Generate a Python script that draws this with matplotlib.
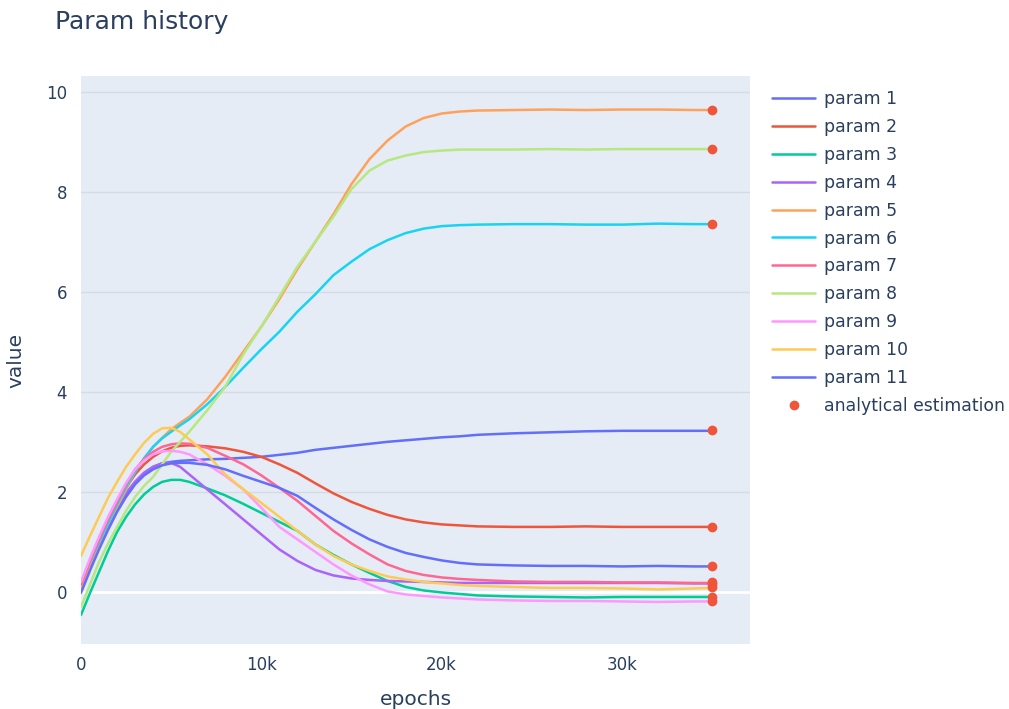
"""
Param history — 학습 중 파라미터 값 추이와 해석적 추정값 비교 차트
"""

import matplotlib
matplotlib.use("Agg")
import matplotlib.pyplot as plt
from matplotlib.ticker import FuncFormatter

# ── 데이터 ──────────────────────────────────────────────────────────────────
EPOCHS = [0, 500, 1000, 1500, 2000, 2500, 3000, 3500, 4000, 4500, 5000, 5500,
          6000, 7000, 8000, 9000, 10000, 11000, 12000, 13000, 14000, 15000,
          16000, 17000, 18000, 19000, 20000, 21000, 22000, 24000, 26000,
          28000, 30000, 32000, 34000, 35000]

PARAM_1 = [0.10, 0.55, 0.95, 1.32, 1.65, 1.95, 2.20, 2.38, 2.50, 2.57, 2.60,
           2.62, 2.63, 2.65, 2.66, 2.68, 2.70, 2.74, 2.78, 2.84, 2.88, 2.92,
           2.96, 3.00, 3.03, 3.06, 3.09, 3.11, 3.14, 3.17, 3.19, 3.21, 3.22,
           3.22, 3.22, 3.22]
PARAM_2 = [0.10, 0.57, 1.00, 1.40, 1.75, 2.08, 2.35, 2.55, 2.70, 2.81, 2.88,
           2.92, 2.93, 2.91, 2.87, 2.80, 2.70, 2.55, 2.38, 2.17, 1.97, 1.80,
           1.66, 1.54, 1.45, 1.39, 1.35, 1.33, 1.31, 1.30, 1.30, 1.31, 1.30,
           1.30, 1.30, 1.30]
PARAM_3 = [-0.46, -0.02, 0.40, 0.82, 1.20, 1.50, 1.75, 1.95, 2.10, 2.20, 2.24,
           2.24, 2.20, 2.07, 1.93, 1.76, 1.58, 1.40, 1.22, 0.95, 0.74, 0.55,
           0.38, 0.22, 0.10, 0.03, -0.01, -0.04, -0.07, -0.09, -0.10, -0.11,
           -0.10, -0.10, -0.10, -0.10]
PARAM_4 = [0.08, 0.53, 0.95, 1.35, 1.70, 1.98, 2.20, 2.38, 2.50, 2.57, 2.58,
           2.50, 2.35, 2.05, 1.75, 1.45, 1.15, 0.85, 0.62, 0.44, 0.33, 0.27,
           0.24, 0.22, 0.21, 0.20, 0.19, 0.18, 0.18, 0.18, 0.18, 0.18, 0.18,
           0.18, 0.17, 0.17]
PARAM_5 = [0.10, 0.53, 0.95, 1.35, 1.70, 2.05, 2.40, 2.67, 2.90, 3.08, 3.25,
           3.38, 3.50, 3.85, 4.30, 4.80, 5.30, 5.85, 6.45, 7.00, 7.55, 8.15,
           8.65, 9.02, 9.30, 9.47, 9.56, 9.60, 9.62, 9.63, 9.64, 9.63, 9.64,
           9.64, 9.63, 9.63]
PARAM_6 = [0.18, 0.60, 1.00, 1.38, 1.75, 2.10, 2.40, 2.67, 2.90, 3.07, 3.20,
           3.33, 3.45, 3.75, 4.10, 4.48, 4.85, 5.20, 5.60, 5.95, 6.33, 6.60,
           6.85, 7.03, 7.17, 7.26, 7.31, 7.33, 7.34, 7.35, 7.35, 7.34, 7.34,
           7.36, 7.35, 7.35]
PARAM_7 = [0.15, 0.62, 1.05, 1.45, 1.80, 2.15, 2.45, 2.65, 2.80, 2.90, 2.95,
           2.97, 2.96, 2.88, 2.72, 2.55, 2.33, 2.08, 1.82, 1.52, 1.22, 0.97,
           0.75, 0.55, 0.42, 0.34, 0.29, 0.26, 0.24, 0.21, 0.20, 0.20, 0.19,
           0.19, 0.18, 0.18]
PARAM_8 = [-0.30, 0.15, 0.60, 0.97, 1.30, 1.62, 1.90, 2.12, 2.30, 2.55, 2.80,
           3.00, 3.20, 3.63, 4.10, 4.75, 5.30, 5.90, 6.50, 7.00, 7.50, 8.05,
           8.42, 8.62, 8.72, 8.79, 8.82, 8.84, 8.84, 8.84, 8.85, 8.84, 8.85,
           8.85, 8.85, 8.85]
PARAM_9 = [0.20, 0.67, 1.10, 1.50, 1.85, 2.18, 2.45, 2.63, 2.75, 2.81, 2.82,
           2.80, 2.75, 2.55, 2.32, 2.05, 1.68, 1.30, 1.05, 0.80, 0.55, 0.33,
           0.15, 0.01, -0.05, -0.08, -0.11, -0.13, -0.15, -0.17, -0.18, -0.18,
           -0.19, -0.20, -0.19, -0.19]
PARAM_10 = [0.72, 1.12, 1.50, 1.88, 2.20, 2.50, 2.75, 2.98, 3.16, 3.27, 3.28,
            3.20, 3.05, 2.75, 2.35, 2.05, 1.78, 1.50, 1.22, 0.95, 0.72, 0.55,
            0.42, 0.31, 0.25, 0.20, 0.17, 0.14, 0.12, 0.10, 0.08, 0.08, 0.07,
            0.05, 0.07, 0.08]
PARAM_11 = [-0.02, 0.43, 0.85, 1.24, 1.60, 1.90, 2.15, 2.33, 2.45, 2.53, 2.57,
            2.58, 2.58, 2.54, 2.45, 2.32, 2.20, 2.08, 1.92, 1.68, 1.45, 1.24,
            1.05, 0.90, 0.78, 0.70, 0.63, 0.58, 0.55, 0.53, 0.52, 0.52, 0.51,
            0.52, 0.51, 0.51]

SERIES = [PARAM_1, PARAM_2, PARAM_3, PARAM_4, PARAM_5, PARAM_6,
          PARAM_7, PARAM_8, PARAM_9, PARAM_10, PARAM_11]
LABELS = [f"param {i}" for i in range(1, 12)]

# 해석적 추정값 (param 1 ~ 11, 마지막 epoch 위치에 표시)
EST_EPOCH = 35000
ESTIMATES = [3.23, 1.30, -0.10, 0.20, 9.63, 7.35, 0.15, 8.85, -0.19, 0.09, 0.52]

# ── 색상 (plotly 기본 팔레트) ─────────────────────────────────────────────────
COLORWAY = ["#636EFA", "#EF553B", "#00CC96", "#AB63FA", "#FFA15A",
            "#19D3F3", "#FF6692", "#B6E880", "#FF97FF", "#FECB52"]
PLOT_BG = "#E5ECF6"
GRID_COLOR = "#D6DBE3"
TEXT_COLOR = "#2A3F5F"

W, H = 1009, 709
fig = plt.figure(figsize=(W / 100, H / 100), dpi=100, facecolor="white")

# 플롯 영역 (픽셀 기준 → figure 비율)
left, right, top, bottom = 81, 750, 76, 644
ax = fig.add_axes([left / W, 1 - bottom / H, (right - left) / W, (bottom - top) / H])
ax.set_facecolor(PLOT_BG)

for i, (vals, label) in enumerate(zip(SERIES, LABELS)):
    ax.plot(EPOCHS, vals, color=COLORWAY[i % len(COLORWAY)], linewidth=1.8,
            label=label, solid_capstyle="round", solid_joinstyle="round", zorder=3)

ax.plot([EST_EPOCH] * len(ESTIMATES), ESTIMATES, linestyle="none",
        marker="o", markersize=6, color="#EF553B", label="analytical estimation",
        zorder=4)

# ── 축 설정 ─────────────────────────────────────────────────────────────────
ax.set_xlim(0, 37100)
ax.set_ylim(-1.04, 10.31)
ax.set_xticks([0, 10000, 20000, 30000])
ax.xaxis.set_major_formatter(FuncFormatter(lambda v, _: "0" if v == 0 else f"{int(v / 1000)}k"))
ax.set_yticks([0, 2, 4, 6, 8, 10])

ax.yaxis.grid(True, color=GRID_COLOR, linewidth=1.0, zorder=0)
ax.xaxis.grid(False)
ax.axhline(0, color="white", linewidth=2.0, zorder=1)
ax.set_axisbelow(True)
for sp in ax.spines.values():
    sp.set_visible(False)

ax.tick_params(axis="both", length=0, labelsize=12, colors=TEXT_COLOR)
ax.tick_params(axis="y", pad=10)
ax.tick_params(axis="x", pad=9)

ax.set_xlabel("epochs", fontsize=14.5, color=TEXT_COLOR, labelpad=11)
ax.set_ylabel("value", fontsize=14.5, color=TEXT_COLOR, labelpad=15)

fig.text(55 / W, 1 - 22 / H, "Param history", fontsize=18, color=TEXT_COLOR,
         ha="left", va="center")

# ── 범례 ────────────────────────────────────────────────────────────────────
leg = ax.legend(loc="upper left", bbox_to_anchor=(772 / W, 1 - 90 / H),
                bbox_transform=fig.transFigure, frameon=False,
                fontsize=12.4, handlelength=2.5, handletextpad=0.52,
                labelspacing=0.575, borderaxespad=0, borderpad=0)
for t in leg.get_texts():
    t.set_color(TEXT_COLOR)

fig.savefig("out.png", dpi=100, facecolor="white")
